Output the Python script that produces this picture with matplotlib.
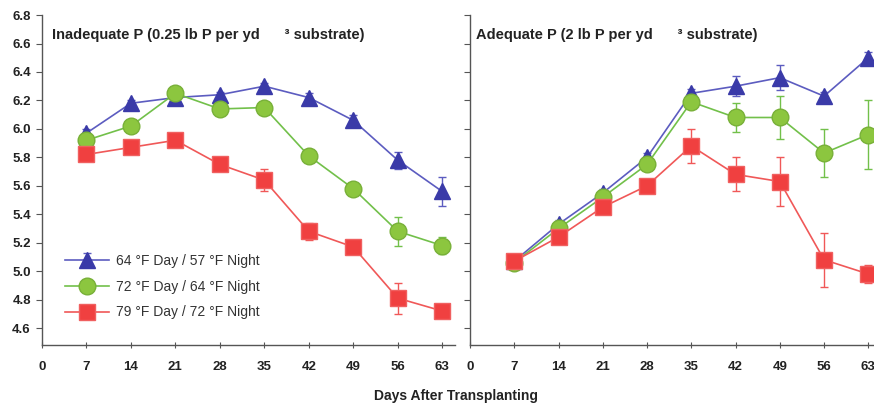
import matplotlib
matplotlib.use("Agg")
import matplotlib.pyplot as plt

days = [7, 14, 21, 28, 35, 42, 49, 56, 63]
x_ticks = [0, 7, 14, 21, 28, 35, 42, 49, 56, 63]
y_ticks = [4.6, 4.8, 5.0, 5.2, 5.4, 5.6, 5.8, 6.0, 6.2, 6.4, 6.6, 6.8]

labels = ["64 \u00b0F Day / 57 \u00b0F Night",
          "72 \u00b0F Day / 64 \u00b0F Night",
          "79 \u00b0F Day / 72 \u00b0F Night"]

# Inadequate P
low_blue = [5.97, 6.18, 6.22, 6.24, 6.30, 6.22, 6.06, 5.78, 5.56]
low_blue_err = [0.03, 0.02, 0.02, 0.02, 0.02, 0.03, 0.04, 0.06, 0.10]
low_green = [5.92, 6.02, 6.25, 6.14, 6.15, 5.81, 5.58, 5.28, 5.18]
low_green_err = [0.02, 0.02, 0.02, 0.02, 0.02, 0.02, 0.02, 0.10, 0.06]
low_red = [5.82, 5.87, 5.92, 5.75, 5.64, 5.28, 5.17, 4.81, 4.72]
low_red_err = [0.03, 0.03, 0.03, 0.04, 0.08, 0.06, 0.04, 0.11, 0.03]

# Adequate P
ade_blue = [5.07, 5.33, 5.55, 5.80, 6.25, 6.30, 6.36, 6.23, 6.50]
ade_blue_err = [0.02, 0.03, 0.03, 0.03, 0.03, 0.07, 0.09, 0.03, 0.04]
ade_green = [5.06, 5.30, 5.52, 5.75, 6.19, 6.08, 6.08, 5.83, 5.96]
ade_green_err = [0.02, 0.03, 0.03, 0.03, 0.03, 0.10, 0.15, 0.17, 0.24]
ade_red = [5.07, 5.24, 5.45, 5.60, 5.88, 5.68, 5.63, 5.08, 4.98]
ade_red_err = [0.03, 0.03, 0.03, 0.04, 0.12, 0.12, 0.17, 0.19, 0.06]

titles = ["Inadequate P (0.25 lb P per yd      \u00b3 substrate)",
          "Adequate P (2 lb P per yd      \u00b3 substrate)"]

plt.rcParams['font.family'] = ['Liberation Sans', 'DejaVu Sans']

styles = [
    dict(marker='^', color='#5c5cc0', mfc='#3a3aa8', mec='#3a3aa8', ms=11.5),
    dict(marker='o', color='#72c04a', mfc='#8cc63f', mec='#78b038', ms=12),
    dict(marker='s', color='#f05858', mfc='#f04040', mec='#f06060', ms=11),
]

fig = plt.figure(figsize=(8.74, 4.07), dpi=100)
ax1 = fig.add_axes([0.048, 0.152, 0.4725, 0.811])
ax2 = fig.add_axes([0.5378, 0.152, 0.4622, 0.811])

panels = [
    (ax1, [low_blue, low_green, low_red], [low_blue_err, low_green_err, low_red_err], 65.0, True),
    (ax2, [ade_blue, ade_green, ade_red], [ade_blue_err, ade_green_err, ade_red_err], 63.9, False),
]

for i, (ax, series, errs, xmax, show_y) in enumerate(panels):
    for s, e, st, lab in zip(series, errs, styles, labels):
        ax.errorbar(days, s, yerr=e, linewidth=1.2, elinewidth=1.0, capsize=3,
                    ecolor=st['color'], clip_on=False, label=lab, zorder=3, **st)
    ax.set_xlim(0, xmax)
    ax.set_ylim(4.48, 6.8)
    ax.set_xticks(x_ticks)
    ax.set_yticks(y_ticks)
    ax.set_xticklabels([str(t) for t in x_ticks], fontweight='bold', fontsize=9.5)
    if show_y:
        ax.set_yticklabels([f"{t:.1f}" for t in y_ticks], fontweight='bold', fontsize=9.5)
    else:
        ax.set_yticklabels([])
    for sp in ['top', 'right']:
        ax.spines[sp].set_visible(False)
    for sp in ['left', 'bottom']:
        ax.spines[sp].set_color('#555555')
        ax.spines[sp].set_linewidth(1.0)
    ax.tick_params(axis='x', direction='inout', length=5, pad=9, colors='#555555', labelcolor='#222222')
    ax.tick_params(axis='y', direction='out', length=4, pad=4, colors='#555555', labelcolor='#222222')
    ax.text(0.025 if show_y else 0.015, 0.94, titles[i], transform=ax.transAxes,
            fontsize=10.5, fontweight='bold', color='#222222', va='center')

leg = ax1.legend(loc='lower left', bbox_to_anchor=(0.025, 0.04), frameon=False,
                 fontsize=10, handlelength=3.2, labelspacing=0.85, handletextpad=0.5)
for t in leg.get_texts():
    t.set_color('#333333')

fig.text(0.522, 0.027, "Days After Transplanting", ha='center', va='center',
         fontsize=10, fontweight='bold', color='#222222')

fig.savefig("out.png", dpi=100)
